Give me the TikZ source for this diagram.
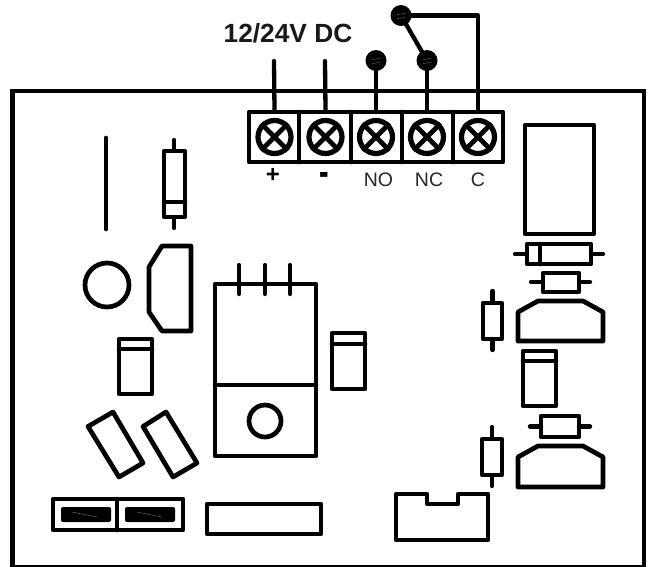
\documentclass[tikz,border=0pt]{standalone}
\usepackage{fontspec}
\usepackage{graphicx}
\setmainfont{Liberation Sans}
\tikzset{
 outline/.style={draw=black,line width=4.7pt,line join=round,line cap=round},
 lead/.style={draw=black,line width=4.3pt,line cap=round},
 ball/.style={circle,fill=black,draw=none,minimum size=21pt,inner sep=0pt},
 screw/.style={circle,draw=black,line width=5.2pt,minimum size=33pt,inner sep=0pt},
 screwcross/.style={draw=black,line width=4.8pt},
 tag/.style={font=\fontsize{19.5}{20}\selectfont,text=black!85,inner sep=0pt},
 sign/.style={font=\fontsize{24}{24}\bfseries\selectfont,text=black,inner sep=0pt},
 scribble/.style={draw=black!55,line width=.4pt},
}
\begin{document}
\begin{tikzpicture}[x=1pt,y=-1pt]
\useasboundingbox (0,0) rectangle (652,566);
% board
\draw[outline,line join=miter] (12.5,91) -- (644,91) -- (644,567) -- (12.5,567) -- cycle;
% title
\node[inner sep=0pt,font=\fontsize{26.3}{27}\bfseries\selectfont,text=black!90] (title) at (288,33) {12/24V DC};
% terminal block
\draw[outline] (249,112) rectangle (503,162);
\foreach \x in {299,351,402,453} \draw[outline] (\x,112) -- (\x,162);
\node[screw] (s1) at (274.5,137) {};
\node[screw] (s2) at (325.5,137) {};
\node[screw] (s3) at (376,137) {};
\node[screw] (s4) at (427,137) {};
\node[screw] (s5) at (478,137) {};
\foreach \n in {s1,s2,s3,s4,s5} \draw[screwcross] (\n.45) -- (\n.225) (\n.135) -- (\n.315);
% wires
\coordinate (p) at (274,61);
\coordinate (m) at (325,61);
\node[ball] (no) at (376,60.5) {};
\node[ball] (nc) at (427,60.5) {};
\node[ball] (top) at (401,15.5) {};
\draw[lead] (p) -- (s1.center |- 0,110);
\draw[lead] (m) -- (s2.center |- 0,110);
\draw[lead] (no.center) -- (no.center |- 0,110);
\draw[lead] (nc.center) -- (nc.center |- 0,110);
\draw[lead] (top.center) -- (nc.center);
\draw[lead,line join=round] (top.center) -- (s5.center |- top.center) -- (s5.center |- 0,110);
\foreach \n in {no,nc,top} {
 \draw[scribble] ([xshift=-4pt,yshift=-3pt]\n.center) -- ([xshift=4pt,yshift=-2pt]\n.center);
 \draw[scribble] ([xshift=-4pt,yshift=1pt]\n.center) -- ([xshift=4pt,yshift=2pt]\n.center);
}
% labels
\node[sign] (lp) at (273,175) {+};
\node[sign] (lm) at (324.5,178.5) {\scalebox{1.2}[1.7]{-}};
\node[tag] (lno) at (378.5,179.5) {NO};
\node[tag] (lnc) at (429,179.5) {NC};
\node[tag] (lc) at (478,179.5) {C};
% relay
\draw[outline] (525,125) rectangle (594,234);
% diode horizontal
\draw[lead] (515,254) -- (527,254) (591,254) -- (603,254);
\draw[outline] (527,244) rectangle (591,264) (540,244) -- (540,264);
% resistor
\draw[lead] (531,282) -- (543,282) (579,282) -- (590,282);
\draw[outline] (543,273) rectangle (579,292);
% vertical resistor 1
\draw[lead] (492.5,291) -- (492.5,303) (492.5,339) -- (492.5,350);
\draw[outline] (483,303) rectangle (502,339);
% trapezoid 1
\draw[outline] (518,341) -- (518,312) -- (538,301) -- (583,301) -- (603,312) -- (603,341) -- cycle;
% cap right
\draw[outline] (523,351) rectangle (556,406) (523,361) -- (556,361);
% resistor 2
\draw[lead] (530,426.5) -- (541,426.5) (579,426.5) -- (590,426.5);
\draw[outline] (541,416) rectangle (579,437);
% trapezoid 2
\draw[outline] (518,487) -- (518,457) -- (538,446) -- (583,446) -- (603,457) -- (603,487) -- cycle;
% vertical resistor 2
\draw[lead] (492,427) -- (492,439) (492,475) -- (492,486);
\draw[outline] (482,439) rectangle (502,475);
% notched connector
\draw[outline] (396,494) -- (427,494) -- (427,504) -- (458,504) -- (458,494) -- (488,494) -- (488,540) -- (396,540) -- cycle;
% left parts
\draw[outline] (106,138) -- (106,229);
\draw[lead] (174,140) -- (174,151) (174,217) -- (174,228);
\draw[outline] (164,151) rectangle (185,217) (164,202) -- (185,202);
\draw[outline] (107,285) circle (22);
\draw[outline] (191,246) -- (162,246) -- (149,267) -- (149,312) -- (162,331) -- (191,331) -- cycle;
\draw[outline] (119,339) rectangle (152,394) (119,349) -- (152,349);
% regulator
\draw[outline] (215,284) rectangle (316,456) (215,385) -- (316,385);
\foreach \x in {239,265,290} \draw[lead] (\x,265) -- (\x,294);
\draw[outline] (265,421) circle (16);
\draw[outline] (332,333) rectangle (365,389) (332,344) -- (365,344);
% tilted
\draw[outline] (88,426.5) -- (113,412) -- (143,463) -- (119,477) -- cycle;
\draw[outline] (143,426.5) -- (166,412) -- (197,463) -- (173,477) -- cycle;
% switch block
\draw[outline] (53,499) rectangle (183,530) (117,499) -- (117,530);
\fill[black,rounded corners=2pt] (61,507) rectangle (111,522);
\fill[black,rounded corners=2pt] (125,507) rectangle (175,522);
\draw[scribble] (72,512) -- (97,517) (137,512) -- (162,517);
% strip
\draw[outline] (207,504) rectangle (321,534);
\end{tikzpicture}
\end{document}
